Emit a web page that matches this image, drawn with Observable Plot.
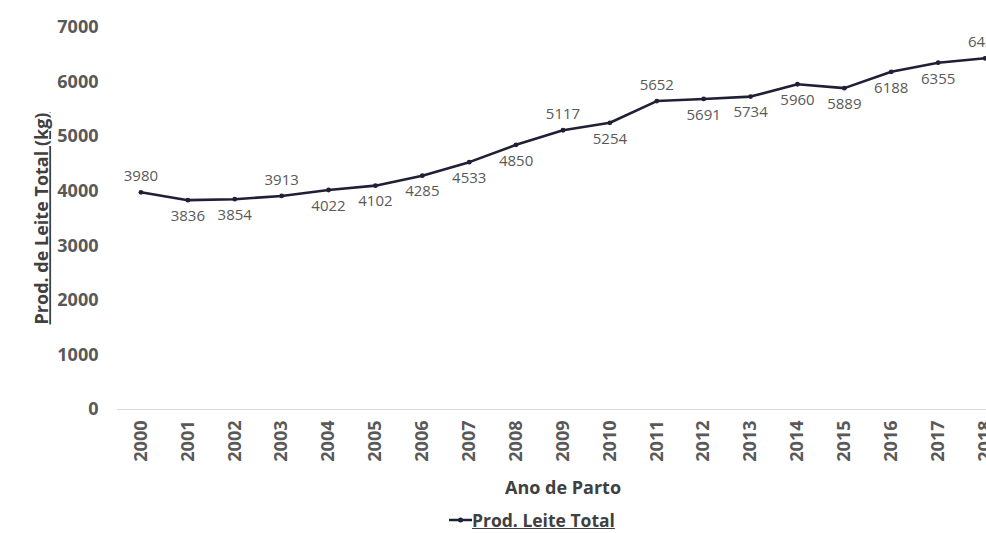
<!DOCTYPE html>
<html>
<head>
<meta charset="utf-8">
<script src="https://cdn.jsdelivr.net/npm/d3@7"></script>
<script src="https://cdn.jsdelivr.net/npm/@observablehq/plot@0.6"></script>
<style>
  html, body { margin: 0; padding: 0; background: #fff; overflow: hidden; width: 986px; height: 533px; }
  #chart { width: 986px; height: 505px; overflow: hidden; }
  #chart svg { display: block; max-width: none !important; width: 1008px !important; height: 505px !important; }
  #legend { position: relative; width: 986px; height: 28px; font-family: "Open Sans", sans-serif; font-weight: 700; font-size: 17.5px; color: #404040; }
  #legend .item { position: absolute; left: 449px; top: 3px; display: flex; align-items: center; }
  #legend .txt { text-decoration: underline; margin-left: 0px; }
</style>
</head>
<body>
<div id="chart"></div>
<div id="legend"><div class="item"><svg width="23" height="12"><line x1="0" y1="6" x2="23" y2="6" stroke="#1f2035" stroke-width="2.5"></line><circle cx="11.5" cy="6" r="2.5" fill="#1f2035"></circle></svg><span class="txt">Prod. Leite Total</span></div></div>
<script>
// Data
const years = [2000, 2001, 2002, 2003, 2004, 2005, 2006, 2007, 2008, 2009, 2010, 2011, 2012, 2013, 2014, 2015, 2016, 2017, 2018];
const milk  = [3980, 3836, 3854, 3913, 4022, 4102, 4285, 4533, 4850, 5117, 5254, 5652, 5691, 5734, 5960, 5889, 6188, 6355, 6436];
const yTicks = [0, 1000, 2000, 3000, 4000, 5000, 6000, 7000];
const labelsAboveYears = [2000, 2003, 2009, 2011, 2018];
const seriesName = "Prod. Leite Total";
const xTitle = "Ano de Parto";
const yTitle = "Prod. de Leite Total (kg)";

const rows = years.map((y, i) => ({year: String(y), value: milk[i], above: labelsAboveYears.includes(y)}));
const lineColor = "#1f2035";
const tickColor = "#595959";

const plot = Plot.plot({
  width: 1008,
  height: 505,
  marginTop: 27,
  marginBottom: 96,
  marginLeft: 117,
  marginRight: 0,
  style: {background: "#fff", overflow: "hidden"},
  x: {type: "point", domain: years.map(String), padding: 0.5, round: false},
  y: {domain: [0, 7000]},
  marks: [
    Plot.ruleY([0], {stroke: "#d9d9d9", strokeWidth: 1.2}),
    Plot.axisY({
      ticks: yTicks, tickSize: 0, tickPadding: 19, tickFormat: d => String(d),
      fontFamily: "Open Sans", fontWeight: 700, fontSize: 18, fill: tickColor,
      label: yTitle, labelAnchor: "center", labelOffset: 82, labelArrow: "none"
    }),
    Plot.axisX({
      tickSize: 0, tickPadding: 11, tickRotate: -90,
      fontFamily: "Open Sans", fontWeight: 700, fontSize: 18, fill: tickColor,
      label: xTitle, labelAnchor: "center", labelOffset: 84, labelArrow: "none"
    }),
    Plot.line(rows, {x: "year", y: "value", stroke: lineColor, strokeWidth: 2.6}),
    Plot.dot(rows, {x: "year", y: "value", r: 2.4, fill: lineColor}),
    Plot.text(rows.filter(d => d.above), {x: "year", y: "value", text: d => String(d.value), dy: -16, fontFamily: "Open Sans", fontSize: 15, fill: tickColor}),
    Plot.text(rows.filter(d => !d.above), {x: "year", y: "value", text: d => String(d.value), dy: 16, fontFamily: "Open Sans", fontSize: 15, fill: tickColor})
  ]
});
document.getElementById("chart").appendChild(plot);

// Style axis titles
d3.select(plot).selectAll("text").each(function() {
  const t = this.textContent;
  if (t === yTitle || t === xTitle) {
    d3.select(this).style("fill", "#404040").attr("fill", "#404040").style("font-family", "Open Sans").style("font-weight", "700").style("font-size", "18px");
  }
  if (t === yTitle) d3.select(this).style("text-decoration", "underline");
});
</script>
</body>
</html>
